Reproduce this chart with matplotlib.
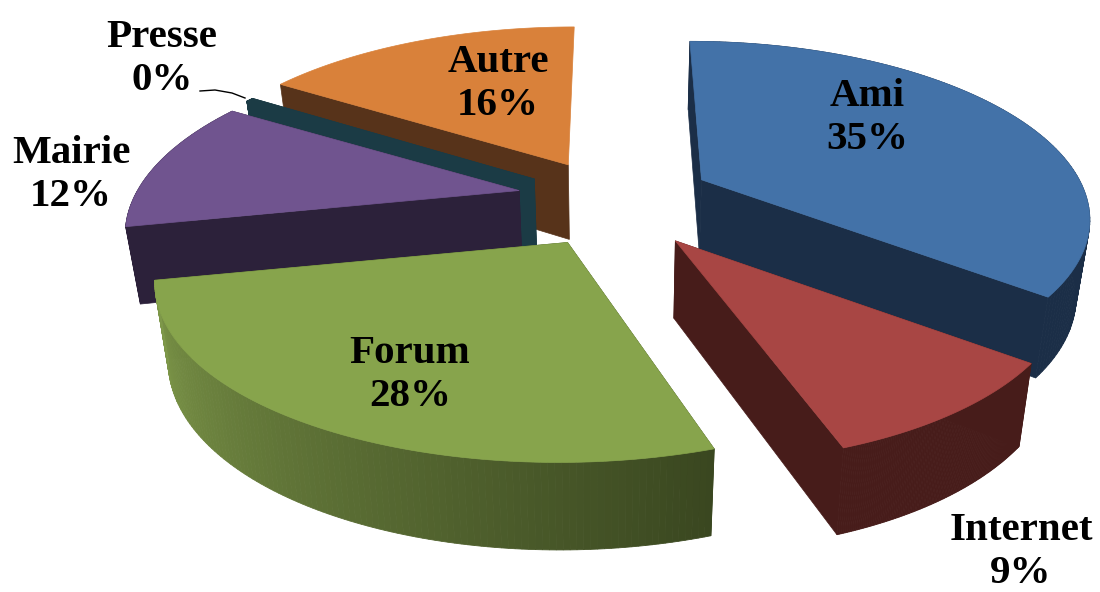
import numpy as np
import matplotlib
matplotlib.use("Agg")
import matplotlib.pyplot as plt
from matplotlib.colors import to_rgb

categories = ["Ami", "Internet", "Forum", "Mairie", "Presse", "Autre"]
valeurs = [35, 9, 28, 12, 0.4, 16]
etiquettes = ["35%", "9%", "28%", "12%", "0%", "16%"]
couleurs = ["#4372a8", "#a84644", "#87a44c", "#70548f", "#1b3b45", "#d9813a"]
cotes = ["#1b2e47", "#471c1a", "#3a4720", "#2c213a", "#1b3b45", "#57331a"]
explosion = [0.21, 0.2, 0.2, 0.26, 0.26, 0.2]

# reglages fins par part : decalage en pixels, rayon, rotation des bords (degres)
dec_x = [6, 1, -20, -8, -8, -21]
dec_y = [1, 18, 16, 3, 7, -1]
rayon = [1.0, 0.97, 1.01, 1.0, 1.015, 1.03]
ecrase = [1.0, 1.0, 0.945, 1.0, 1.0, 1.0]
rot_debut = [0, 1.8, 4, 0, 0, 0]
rot_fin = [3, 3, 0, 0, 0, 0]

# parametres de la projection (pixels de l'image)
CX, CY = 625, 195
A, B = 385, 172
K = 0.2
PROF = 76


def projeter(X, Y, z=0.0):
    # X, Y dans le plan du disque, z = 1 pour le bas du camembert
    d = 1 + K * Y
    x = CX + A * X / d * (1 - 0.03 * z)
    y = CY - B * Y / d + z * PROF / d ** 0.55
    return x, y


def melange(c1, c2, t):
    c1, c2 = np.array(to_rgb(c1)), np.array(to_rgb(c2))
    return tuple(c1 + (c2 - c1) * t)


fig = plt.figure(figsize=(11, 5.92), dpi=100)
ax = fig.add_axes([0, 0, 1, 1])
ax.set_xlim(0, 1100)
ax.set_ylim(592, 0)
ax.axis("off")

total = sum(valeurs)
debuts = np.cumsum([0] + valeurs[:-1]) / total * 2 * np.pi
fins = np.cumsum(valeurs) / total * 2 * np.pi

ordre = ["Autre", "Presse", "Mairie", "Ami", "Internet", "Forum"]
for nom in ordre:
    i = categories.index(nom)
    m = (debuts[i] + fins[i]) / 2
    t0 = debuts[i] + np.radians(rot_debut[i])
    t1 = fins[i] + np.radians(rot_fin[i])
    ox, oy = explosion[i] * np.sin(m), explosion[i] * np.cos(m)
    r = rayon[i]
    e = ecrase[i]
    t = np.linspace(t0, t1, 120)
    X = ox + r * np.sin(t)
    Y = oy + r * e * np.cos(t)

    def proj(X, Y, z=0.0):
        x, y = projeter(X, Y, z)
        return x + dec_x[i], y + dec_y[i]

    # faces de coupe
    for tc in [t0, t1]:
        if nom == "Autre" and tc == t1:
            continue
        xa, ya = proj(ox, oy)
        xb, yb = proj(ox + r * np.sin(tc), oy + r * e * np.cos(tc))
        xc, yc = proj(ox + r * np.sin(tc), oy + r * e * np.cos(tc), 1)
        xd, yd = proj(ox, oy, 1)
        ax.fill([xa, xb, xc, xd], [ya, yb, yc, yd], color=cotes[i], lw=0.5)

    # bord exterieur (cache pour Autre, il est derriere le dessus)
    if nom != "Autre":
        for j in range(len(t) - 1):
            xa, ya = proj(X[j], Y[j])
            xb, yb = proj(X[j + 1], Y[j + 1])
            xc, yc = proj(X[j + 1], Y[j + 1], 1)
            xd, yd = proj(X[j], Y[j], 1)
            if nom == "Forum":
                f = j / (len(t) - 1)
                col = melange("#3a4720", "#7f994a", f)
            else:
                col = cotes[i]
            ax.fill([xa, xb, xc, xd], [ya, yb, yc, yd], color=col, lw=0.6)

    # dessus
    xs, ys = proj(np.r_[ox, X], np.r_[oy, Y])
    ax.fill(xs, ys, color=couleurs[i], lw=0.5)

# etiquettes
pos_txt = {"Ami": (867, 118), "Internet": (1021, 552), "Forum": (410, 375),
           "Mairie": (71, 175), "Presse": (162, 59), "Autre": (498, 84)}
for nom, et in zip(categories, etiquettes):
    x, y = pos_txt[nom]
    ax.text(x, y, nom + "\n" + et, ha="center", va="center", fontsize=29.5,
            fontweight="bold", family="Liberation Serif", color="black",
            linespacing=1.2)

# trait de rappel de Presse
ax.plot([200, 215, 232, 245], [91, 90, 93, 98], color="black", lw=1)

fig.savefig("out.png", dpi=100)
